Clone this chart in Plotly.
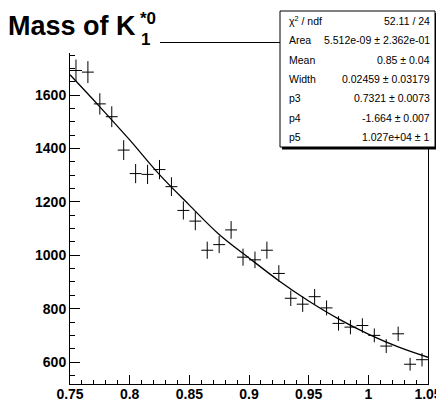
import plotly.graph_objects as go

# ---- data ----
bin_centers = [0.755, 0.765, 0.775, 0.785, 0.795, 0.805, 0.815, 0.825, 0.835, 0.845,
               0.855, 0.865, 0.875, 0.885, 0.895, 0.905, 0.915, 0.925, 0.935, 0.945,
               0.955, 0.965, 0.975, 0.985, 0.995, 1.005, 1.015, 1.025, 1.035, 1.045]
counts = [1692, 1686, 1567, 1519, 1394, 1306, 1303, 1321, 1257, 1168,
          1128, 1019, 1040, 1095, 993, 983, 1019, 932, 839, 817,
          845, 803, 745, 731, 737, 700, 660, 706, 592, 609]
count_errors = [41, 41, 40, 39, 37, 36, 36, 36, 35, 34,
                34, 32, 32, 33, 32, 31, 32, 31, 29, 29,
                29, 28, 27, 27, 27, 26, 26, 27, 24, 25]
half_bin = [0.005] * 30

fit_x = [0.75, 0.775, 0.80, 0.825, 0.85, 0.875, 0.90, 0.925, 0.95, 0.975, 1.0, 1.025, 1.05]
fit_y = [1676, 1556, 1432, 1302, 1188, 1078, 990, 905, 829, 762, 705, 657, 618]

x_tick_vals = [0.75, 0.8, 0.85, 0.9, 0.95, 1.0, 1.05]
x_tick_text = ["0.75", "0.8", "0.85", "0.9", "0.95", "1", "1.05"]
y_tick_vals = [600, 800, 1000, 1200, 1400, 1600]
y_tick_text = ["600", "800", "1000", "1200", "1400", "1600"]

stat_labels = ["χ<sup>2</sup> / ndf", "Area", "Mean", "Width", "p3", "p4", "p5"]
stat_values = ["52.11 / 24", "5.512e-09 ± 2.362e-01", "0.85 ± 0.04",
               "0.02459 ± 0.03179", "0.7321 ± 0.0073", "-1.664 ± 0.007",
               "1.027e+04 ± 1"]

title_main = "Mass of K"
title_sub = "1"
title_sup = "*0"

# ---- layout geometry (page pixels; the page body adds an 8px margin) ----
OFF = 8
PAGE_W, PAGE_H = 444, 401
W, H = PAGE_W - OFF, PAGE_H - OFF
PL, PR, PT, PB = 70, 428, 43, 384          # plot frame in page pixels
L, R, T, B = PL - OFF, PR - OFF, PT - OFF, PB - OFF
FONT = "Liberation Sans, Arial, Helvetica, sans-serif"


def px(xp):
    return (xp - PL) / (PR - PL)


def py(yp):
    return (PB - yp) / (PB - PT)


fig = go.Figure()

fig.add_trace(go.Scatter(
    x=bin_centers, y=counts, mode="markers",
    marker=dict(size=0.1, color="black", opacity=0),
    error_x=dict(type="data", array=half_bin, symmetric=True, width=0,
                 thickness=1, color="black"),
    error_y=dict(type="data", array=count_errors, symmetric=True, width=0,
                 thickness=1, color="black"),
    showlegend=False, hoverinfo="skip",
))

fig.add_trace(go.Scatter(
    x=fit_x, y=fit_y, mode="lines",
    line=dict(color="black", width=1.3, shape="spline", smoothing=1.0),
    showlegend=False, hoverinfo="skip",
))

shapes = []
# title pave (white, hides the frame under it)
shapes.append(dict(type="rect", xref="paper", yref="paper",
                   x0=px(0), x1=px(160), y0=py(53), y1=py(0),
                   fillcolor="white", line=dict(width=0), layer="above"))
# stats box shadow
shapes.append(dict(type="rect", xref="paper", yref="paper",
                   x0=px(282), x1=px(437.5), y0=py(149.5), y1=py(13),
                   fillcolor="black", line=dict(width=0), layer="above"))
# stats box
shapes.append(dict(type="rect", xref="paper", yref="paper",
                   x0=px(280), x1=px(435), y0=py(147), y1=py(11),
                   fillcolor="white", line=dict(color="black", width=1), layer="above"))

annotations = []
row_h = (147 - 11) / 7.0
for i, (lab, val) in enumerate(zip(stat_labels, stat_values)):
    yc = 11 + row_h * (i + 0.5)
    annotations.append(dict(xref="paper", yref="paper", x=px(287), y=py(yc),
                            text=lab, showarrow=False, xanchor="left", yanchor="middle",
                            font=dict(family=FONT, size=10.5, color="black")))
    annotations.append(dict(xref="paper", yref="paper", x=px(432), y=py(yc),
                            text=val, showarrow=False, xanchor="right", yanchor="middle",
                            font=dict(family=FONT, size=10.5, color="black")))

# title
annotations.append(dict(xref="paper", yref="paper", x=px(6), y=py(26),
                        text="<b>" + title_main + "</b>", showarrow=False,
                        xanchor="left", yanchor="middle",
                        font=dict(family=FONT, size=27, color="black")))
annotations.append(dict(xref="paper", yref="paper", x=px(139), y=py(39),
                        text="<b>" + title_sub + "</b>", showarrow=False,
                        xanchor="left", yanchor="middle",
                        font=dict(family=FONT, size=17, color="black")))
annotations.append(dict(xref="paper", yref="paper", x=px(138), y=py(18),
                        text="<b>" + title_sup + "</b>", showarrow=False,
                        xanchor="left", yanchor="middle",
                        font=dict(family=FONT, size=17, color="black")))

fig.update_layout(
    width=W, height=H,
    margin=dict(l=L, r=W - R, t=T, b=H - B, pad=0, autoexpand=False),
    paper_bgcolor="white", plot_bgcolor="white",
    shapes=shapes, annotations=annotations,
    showlegend=False,
)

fig.update_xaxes(
    range=[0.75, 1.05], tickmode="array", tickvals=x_tick_vals, ticktext=x_tick_text,
    ticks="inside", ticklen=9, tickwidth=1, tickcolor="black",
    showline=True, linecolor="black", linewidth=1, mirror=True,
    showgrid=False, zeroline=False, automargin=False, ticklabelstandoff=-3,
    tickfont=dict(family=FONT, size=14, color="black", weight="bold"),
    minor=dict(ticks="inside", ticklen=4, tick0=0.75, dtick=0.01,
               tickcolor="black", tickwidth=1, showgrid=False),
)
fig.update_yaxes(
    range=[518, 1795], tickmode="array", tickvals=y_tick_vals, ticktext=y_tick_text,
    ticks="inside", ticklen=10, tickwidth=1, tickcolor="black",
    showline=True, linecolor="black", linewidth=1, mirror=True,
    showgrid=False, zeroline=False, automargin=False,
    tickfont=dict(family=FONT, size=14, color="black", weight="bold"),
    minor=dict(ticks="inside", ticklen=5, tick0=0, dtick=50,
               tickcolor="black", tickwidth=1, showgrid=False),
)

fig.write_html("out.html")
